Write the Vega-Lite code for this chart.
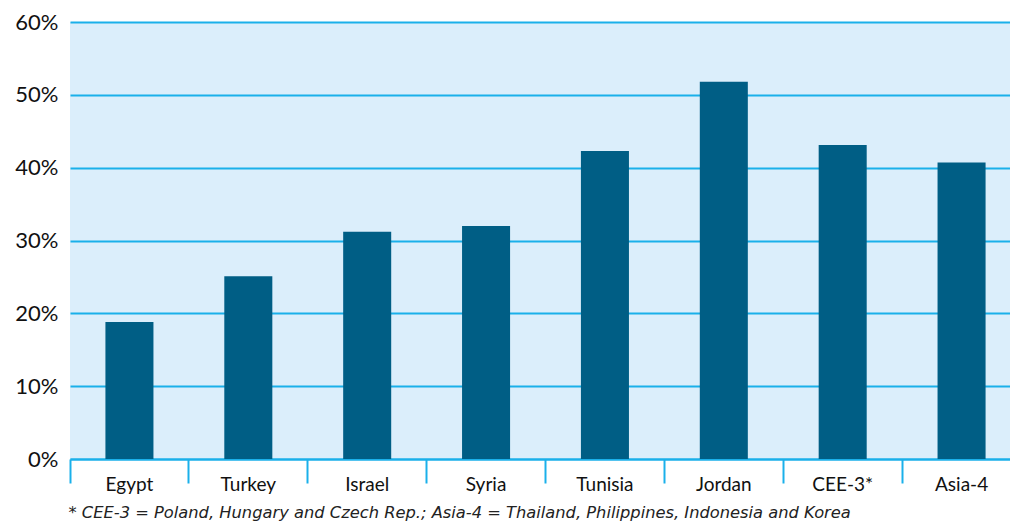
{
  "$schema": "https://vega.github.io/schema/vega-lite/v6.json",
  "autosize": "none",
  "width": 951,
  "height": 437,
  "padding": {"left": 70, "top": 22, "right": 0, "bottom": 66},
  "background": "white",
  "config": {
    "view": {"fill": "#dbeefb", "stroke": null},
    "font": "Lato"
  },
  "data": {
    "values": [
      {"country": "Egypt", "share": 18.8},
      {"country": "Turkey", "share": 25.1},
      {"country": "Israel", "share": 31.2},
      {"country": "Syria", "share": 32.0},
      {"country": "Tunisia", "share": 42.3},
      {"country": "Jordan", "share": 51.8},
      {"country": "CEE-3*", "share": 43.1},
      {"country": "Asia-4", "share": 40.7}
    ]
  },
  "mark": {"type": "bar", "color": "#005e85"},
  "encoding": {
    "x": {
      "field": "country",
      "type": "nominal",
      "sort": null,
      "scale": {"paddingInner": 0.596, "paddingOuter": 0.298},
      "axis": {
        "title": "* CEE-3 = Poland, Hungary and Czech Rep.; Asia-4 = Thailand, Philippines, Indonesia and Korea",
        "titleAnchor": "start",
        "titleFont": "DejaVu Sans",
        "titleFontStyle": "italic",
        "titleFontWeight": "normal",
        "titleFontSize": 16.3,
        "titleColor": "#222222",
        "titlePadding": 10,
        "titleX": -2,
        "labelAngle": 0,
        "labelFontSize": 19,
        "labelColor": "#111111",
        "labelPadding": -8,
        "bandPosition": -0.7376,
        "ticks": true,
        "tickSize": 24,
        "tickWidth": 2,
        "tickColor": "#1ab0ea",
        "domainColor": "#1ab0ea",
        "domainWidth": 2,
        "grid": false
      }
    },
    "y": {
      "field": "share",
      "type": "quantitative",
      "scale": {"domain": [0, 60]},
      "axis": {
        "title": null,
        "values": [0, 10, 20, 30, 40, 50, 60],
        "labelExpr": "datum.value + '%'",
        "labelFontSize": 22,
        "labelColor": "#111111",
        "labelPadding": 12,
        "ticks": false,
        "domain": false,
        "grid": true,
        "gridColor": "#1ab0ea",
        "gridWidth": 2
      }
    }
  }
}
